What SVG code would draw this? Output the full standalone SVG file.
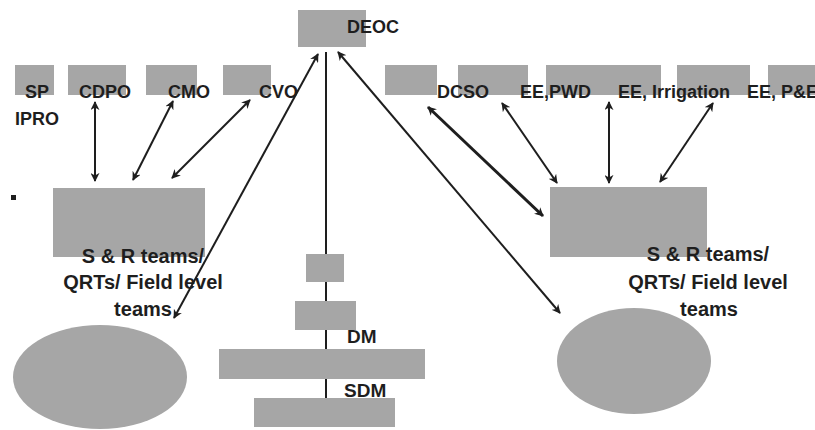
<svg xmlns="http://www.w3.org/2000/svg" width="815" height="430" viewBox="0 0 815 430">
<style>
.box{fill:#a6a6a6;}
.lbl{font-family:"Liberation Sans",Arial,sans-serif;font-weight:bold;font-size:18px;fill:#1e1e1e;}
.big{font-size:20px;text-anchor:middle;}
.mid{font-size:19px;}
.con{stroke:#1e1e1e;stroke-width:2;fill:none;}
.arr{marker-start:url(#ah);marker-end:url(#ah);}
.thick{stroke-width:3;}
</style>
<defs>
<marker id="ah" viewBox="0 0 10 10" refX="9" refY="5" markerWidth="9" markerHeight="9" markerUnits="userSpaceOnUse" orient="auto-start-reverse">
<path d="M0,0 L10,5 L0,10 L3,5 z" fill="#1e1e1e"/>
</marker>
</defs>
<rect width="815" height="430" fill="#ffffff"/>
<g id="connectors">
<line class="con" x1="326" y1="52" x2="326" y2="398"/>
<line class="con arr" x1="95" y1="102" x2="95" y2="181"/>
<line class="con arr" x1="173" y1="101" x2="133" y2="180"/>
<line class="con arr" x1="250" y1="100" x2="172" y2="178"/>
<line class="con arr" x1="318" y1="54" x2="174" y2="318"/>
<line class="con arr" x1="338" y1="52" x2="560" y2="313"/>
<line class="con arr thick" x1="428" y1="107" x2="543" y2="216"/>
<line class="con arr" x1="502" y1="103" x2="557" y2="183"/>
<line class="con arr" x1="609" y1="102" x2="609" y2="183"/>
<line class="con arr" x1="713" y1="103" x2="660" y2="182"/>
</g>
<g id="deoc"><rect class="box" x="298" y="10" width="68" height="37"/><text class="lbl" x="347" y="33">DEOC</text></g>
<g id="sp"><rect class="box" x="15" y="65" width="39" height="30"/><text class="lbl" x="25" y="98">SP</text><text class="lbl" x="15" y="125">IPRO</text></g>
<g id="cdpo"><rect class="box" x="68" y="65" width="58" height="30"/><text class="lbl" x="79" y="98">CDPO</text></g>
<g id="cmo"><rect class="box" x="146" y="65" width="51" height="30"/><text class="lbl" x="168" y="98">CMO</text></g>
<g id="cvo"><rect class="box" x="223" y="65" width="48" height="30"/><text class="lbl" x="259" y="98">CVO</text></g>
<g id="blank-top"><rect class="box" x="385" y="65" width="52" height="30"/></g>
<g id="dcso"><rect class="box" x="458" y="65" width="70" height="30"/><text class="lbl" x="437" y="98">DCSO</text></g>
<g id="ee-pwd"><rect class="box" x="546" y="65" width="115" height="30"/><text class="lbl" x="520" y="98">EE,PWD</text></g>
<g id="ee-irrigation"><rect class="box" x="677" y="65" width="73" height="30"/><text class="lbl" x="618" y="98">EE, Irrigation</text></g>
<g id="ee-pe"><rect class="box" x="768" y="65" width="50" height="30"/><text class="lbl" x="747" y="98">EE, P&amp;E</text></g>
<g id="bullet"><rect x="11" y="195" width="5" height="5" fill="#1e1e1e"/></g>
<g id="teams-left">
<rect class="box" x="53" y="188" width="152" height="69"/>
<text class="lbl big" x="143" y="263">S &amp; R teams/</text>
<text class="lbl big" x="143" y="289">QRTs/ Field level</text>
<text class="lbl big" x="143" y="316">teams</text>
</g>
<g id="teams-right">
<rect class="box" x="550" y="187" width="157" height="70"/>
<text class="lbl big" x="708" y="261">S &amp; R teams/</text>
<text class="lbl big" x="708" y="289">QRTs/ Field level</text>
<text class="lbl big" x="709" y="316">teams</text>
</g>
<g id="field-left"><ellipse class="box" cx="100" cy="377" rx="87" ry="52"/></g>
<g id="field-right"><ellipse class="box" cx="634" cy="361" rx="77" ry="53"/></g>
<g id="stack1"><rect class="box" x="306" y="254" width="38" height="28"/></g>
<g id="stack2"><rect class="box" x="295" y="301" width="61" height="29"/></g>
<g id="dm"><rect class="box" x="219" y="349" width="206" height="30"/><text class="lbl mid" x="347" y="343">DM</text></g>
<g id="sdm"><rect class="box" x="254" y="398" width="141" height="29"/><text class="lbl mid" x="344" y="397">SDM</text></g>
</svg>
